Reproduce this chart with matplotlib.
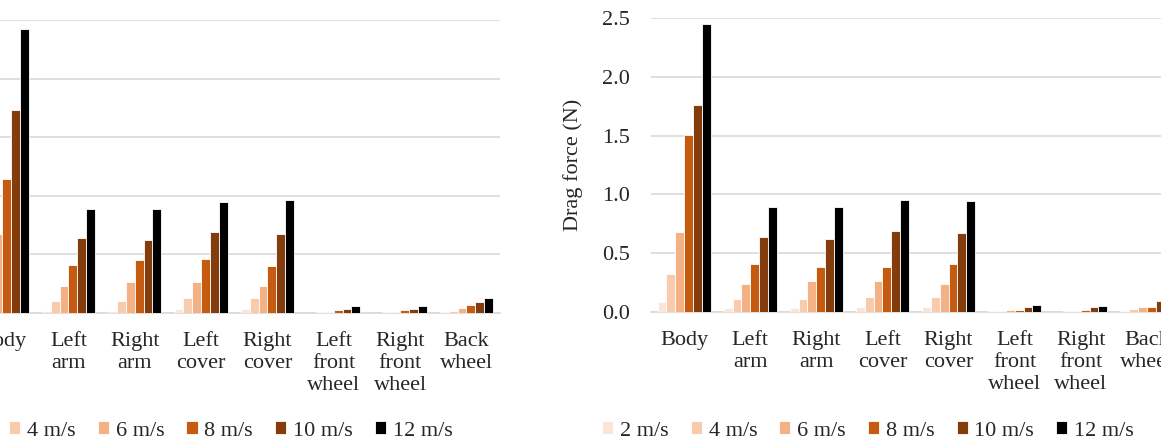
import numpy as np
import matplotlib.pyplot as plt

parts = ['Body', 'Left\narm', 'Right\narm', 'Left\ncover', 'Right\ncover',
         'Left\nfront\nwheel', 'Right\nfront\nwheel', 'Back\nwheel']
speeds = ['2 m/s', '4 m/s', '6 m/s', '8 m/s', '10 m/s', '12 m/s']
colors = ['#fbe5d6', '#f8cbad', '#f4b183', '#c55a11', '#843c0c', '#000000']

# drag force (N) per part, one list per speed
left_2 = [0.09, 0.017, 0.017, 0.034, 0.034, 0.002, 0.002, 0.005]
left_4 = [0.31, 0.105, 0.105, 0.125, 0.125, 0.005, 0.005, 0.02]
left_6 = [0.67, 0.233, 0.265, 0.265, 0.233, 0.01, 0.01, 0.04]
left_8 = [1.146, 0.41, 0.45, 0.458, 0.404, 0.023, 0.023, 0.066]
left_10 = [1.73, 0.64, 0.625, 0.69, 0.677, 0.037, 0.037, 0.094]
left_12 = [2.42, 0.89, 0.89, 0.95, 0.964, 0.06, 0.06, 0.13]

right_2 = [0.088, 0.03, 0.03, 0.04, 0.04, 0.005, 0.003, 0.005]
right_4 = [0.32, 0.11, 0.11, 0.13, 0.13, 0.01, 0.007, 0.025]
right_6 = [0.68, 0.235, 0.266, 0.264, 0.235, 0.02, 0.01, 0.04]
right_8 = [1.505, 0.41, 0.383, 0.38, 0.41, 0.015, 0.013, 0.043]
right_10 = [1.757, 0.638, 0.624, 0.689, 0.675, 0.04, 0.04, 0.094]
right_12 = [2.45, 0.895, 0.89, 0.955, 0.94, 0.06, 0.05, 0.14]

plt.rcParams['font.family'] = ['Liberation Serif', 'DejaVu Serif']
plt.rcParams['font.size'] = 16
txt = '#262626'
grid = '#d9d9d9'

W, H = 1161, 447
fig = plt.figure(figsize=(W / 100, H / 100), dpi=100)
ax1 = fig.add_axes([-31 / W, (H - 313) / H, 530.6 / W, 293 / H])
ax2 = fig.add_axes([651 / W, (H - 312) / H, 529 / W, 294 / H])

x = np.arange(len(parts))
w = 0.8 / len(speeds)


def draw(ax, series):
    bars = []
    for j, vals in enumerate(series):
        b = ax.bar(x + (j - 2.5) * w, vals, w, color=colors[j],
                   edgecolor='white', linewidth=0.6, label=speeds[j], zorder=3)
        bars.append(b)
    ax.set_xlim(-0.5, len(parts) - 0.5)
    ax.set_ylim(0, 2.5)
    ax.set_yticks(np.arange(0, 2.51, 0.5))
    ax.yaxis.set_major_formatter(plt.FormatStrFormatter('%.1f'))
    ax.set_xticks(x)
    ax.set_xticklabels(parts, color=txt, va='top', linespacing=1.2)
    ax.tick_params(axis='x', length=0, pad=14)
    ax.tick_params(axis='y', length=0, pad=15, colors=txt)
    ax.grid(axis='y', color=grid, linewidth=1.2, zorder=0)
    for s in ['top', 'right', 'left']:
        ax.spines[s].set_visible(False)
    ax.spines['bottom'].set_color(grid)
    ax.spines['bottom'].set_linewidth(1.2)
    return bars


bars1 = draw(ax1, [left_2, left_4, left_6, left_8, left_10, left_12])
bars2 = draw(ax2, [right_2, right_4, right_6, right_8, right_10, right_12])
# left panel's axis labels fall outside the cropped view
ax1.tick_params(axis='y', labelleft=False)
ax2.set_ylabel('Drag force (N)', color=txt, labelpad=14)

for bars, cx in [(bars1, 186.5), (bars2, 868)]:
    fig.legend(bars, speeds, loc='center', bbox_to_anchor=(cx / W, 16 / H),
               ncol=6, frameon=False, handlelength=0.5, handleheight=0.5,
               handletextpad=0.3, columnspacing=1.0, labelcolor=txt,
               borderpad=0, borderaxespad=0)

fig.savefig('out.png', dpi=100)
